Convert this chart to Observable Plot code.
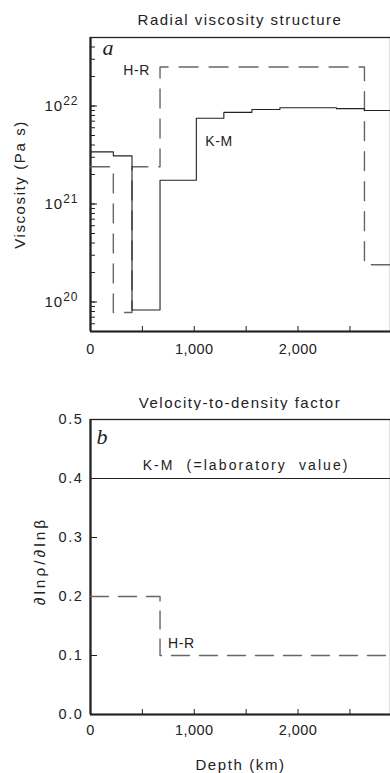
<!DOCTYPE html>
<html><head><meta charset="utf-8">
<script src="https://cdn.jsdelivr.net/npm/d3@7"></script>
<script src="https://cdn.jsdelivr.net/npm/@observablehq/plot@0.6"></script>
<style>
body{margin:0;background:#fff;width:390px;height:773px;position:relative;overflow:hidden;font-family:"Liberation Sans",Arial,sans-serif;color:#222}
.title{position:absolute;left:90px;width:300px;text-align:center;font-size:15px;letter-spacing:1.5px;line-height:20px;white-space:nowrap}
#a,#b{position:absolute;left:0}
.axt text{font-size:15px;letter-spacing:1.6px}
.axd text{font-size:15.5px;letter-spacing:3px}
.ann text{font-size:14px;letter-spacing:0.6px}
.annwide text{font-size:14px;letter-spacing:2.1px;word-spacing:6px}
.xlab text{font-size:14.5px;letter-spacing:0.5px}
.flab text{font-size:14.5px;letter-spacing:1.6px}
.vlab text{font-size:15px;letter-spacing:1px}
</style></head><body>
<div class="title" style="top:10px">Radial viscosity structure</div>
<div id="a" style="top:28px"></div>
<div class="title" style="top:393px">Velocity-to-density factor</div>
<div id="b" style="top:410px"></div>
<script>
// Panel a: radial viscosity (Pa s) vs depth (km), value from each layer top
const depthKM = [0, 220, 400, 670, 1020, 1285, 1555, 1825, 2370, 2640, 2891];
const viscKM  = [3.4e21, 3.1e21, 8.3e19, 1.75e21, 7.5e21, 8.6e21, 9.2e21, 9.6e21, 9.4e21, 9.0e21, 9.0e21];
const depthHR = [0, 220, 400, 670, 2640, 2891];
const viscHR  = [2.4e21, 7.8e19, 2.4e21, 2.5e22, 2.4e20, 2.4e20];
// Panel b: velocity-to-density factor
const factorDepthKM = [0, 2891];
const factorKM = [0.4, 0.4];
const factorDepthHR = [0, 670, 2891];
const factorHR = [0.2, 0.1, 0.1];
// Axes
const depthDomain = [0, 2891];
const viscDomain = [5e19, 5e22];
const factorDomain = [0, 0.5];
const xTickValues = [0, 500, 1000, 1500, 2000, 2500];
const xTickLabels = [0, 1000, 2000];
const viscMajorTicks = [1e20, 1e21, 1e22];
const factorTicks = [0, 0.1, 0.2, 0.3, 0.4, 0.5];
// Annotation texts and their data anchors
const labelHRa = {text: "H-R", x: 670, y: 2.5e22};
const labelKMa = {text: "K-M", x: 1020, y: 4.3e21};
const labelKMb = {text: "K-M (=laboratory value)", x: 1500, y: 0.4};
const labelHRb = {text: "H-R", x: 670, y: 0.1};

const font = '"Liberation Sans", Arial, sans-serif';
const rows = (xs, ys) => xs.map((x, i) => ({x, y: ys[i]}));
const fmtX = d3.format(",");
const ink = "#222";
const dashInk = "#666";
const T = 5; // tick length (px), drawn inward

const plotA = Plot.plot({
  width: 390, height: 340, marginLeft: 90, marginRight: 0, marginTop: 9, marginBottom: 37,
  style: {fontFamily: font, fontSize: "14.5px", color: ink, background: "white", overflow: "visible"},
  x: {domain: depthDomain, label: null},
  y: {type: "log", domain: viscDomain, label: null},
  marks: [
    Plot.frame({stroke: ink, strokeWidth: 1.3}),
    Plot.ruleX([depthDomain[0]], {stroke: ink, strokeWidth: 2.2}),
    Plot.ruleY([viscDomain[0]], {stroke: ink, strokeWidth: 2}),
    Plot.axisX({ticks: xTickValues, tickSize: T, dy: -T, tickFormat: () => "", label: null}),
    Plot.axisX({ticks: xTickLabels, tickSize: 0, tickPadding: 12, tickFormat: fmtX, label: null, className: "xlab"}),
    Plot.axisY({ticks: d3.scaleLog().domain(viscDomain).ticks(), tickSize: T, dx: T, tickFormat: () => "", label: null}),
    Plot.axisY({ticks: viscMajorTicks, tickSize: 7, dx: 7, tickFormat: () => "", label: null}),
    Plot.axisY({ticks: viscMajorTicks, tickSize: 0, tickPadding: 12, tickFormat: d => "10^" + Math.round(Math.log10(d)), label: null, className: "vlab"}),
    Plot.line(rows(depthHR, viscHR), {x: "x", y: "y", curve: "step-after", stroke: dashInk, strokeWidth: 1.4, strokeDasharray: "19,11"}),
    Plot.line(rows(depthKM, viscKM), {x: "x", y: "y", curve: "step-after", stroke: ink, strokeWidth: 1.1}),
    Plot.text([labelHRa], {x: "x", y: "y", text: "text", textAnchor: "end", dx: -10, dy: 4, fill: ink, className: "ann"}),
    Plot.text([labelKMa], {x: "x", y: "y", text: "text", textAnchor: "start", dx: 9, dy: 0, fill: ink, className: "ann"}),
    Plot.text(["a"], {frameAnchor: "top-left", textAnchor: "start", lineAnchor: "top", dx: 12, dy: 2, fontSize: 22, fontStyle: "italic", fontFamily: '"Liberation Serif", serif', fill: ink}),
    Plot.text(["Viscosity (Pa s)"], {frameAnchor: "left", textAnchor: "middle", lineAnchor: "middle", dx: -70, rotate: -90, fill: ink, className: "axt"})
  ]
});

const plotB = Plot.plot({
  width: 390, height: 363, marginLeft: 90, marginRight: 0, marginTop: 9, marginBottom: 59,
  style: {fontFamily: font, fontSize: "14.5px", color: ink, background: "white", overflow: "visible"},
  x: {domain: depthDomain, label: null},
  y: {domain: factorDomain, label: null},
  marks: [
    Plot.frame({stroke: ink, strokeWidth: 1.3}),
    Plot.ruleX([depthDomain[0]], {stroke: ink, strokeWidth: 2.2}),
    Plot.ruleY([factorDomain[0]], {stroke: ink, strokeWidth: 2}),
    Plot.axisX({ticks: xTickValues, tickSize: T, dy: -T, tickFormat: () => "", label: null}),
    Plot.axisX({ticks: xTickLabels, tickSize: 0, tickPadding: 10, tickFormat: fmtX, label: null, className: "xlab"}),
    Plot.axisY({ticks: factorTicks, tickSize: 7, dx: 7, tickFormat: () => "", label: null}),
    Plot.axisY({ticks: factorTicks, tickSize: 0, tickPadding: 7, tickFormat: d3.format(".1f"), label: null, className: "flab"}),
    Plot.line(rows(factorDepthKM, factorKM), {x: "x", y: "y", stroke: ink, strokeWidth: 1.1}),
    Plot.line(rows(factorDepthHR, factorHR), {x: "x", y: "y", curve: "step-after", stroke: dashInk, strokeWidth: 1.4, strokeDasharray: "18,10"}),
    Plot.text([labelKMb], {x: "x", y: "y", text: "text", textAnchor: "middle", dy: -13, fill: ink, className: "annwide"}),
    Plot.text([labelHRb], {x: "x", y: "y", text: "text", textAnchor: "start", dx: 8, dy: -12, fill: ink, className: "ann"}),
    Plot.text(["b"], {frameAnchor: "top-left", textAnchor: "start", lineAnchor: "top", dx: 6, dy: 9, fontSize: 22, fontStyle: "italic", fontFamily: '"Liberation Serif", serif', fill: ink}),
    Plot.text(["∂lnρ/∂lnβ"], {frameAnchor: "left", textAnchor: "middle", lineAnchor: "middle", dx: -50, dy: -6, rotate: -90, fill: ink, className: "axd"}),
    Plot.text(["Depth (km)"], {frameAnchor: "bottom", textAnchor: "middle", lineAnchor: "middle", dy: 51, fill: ink, className: "axt"})
  ]
});

document.getElementById("a").appendChild(plotA);
document.getElementById("b").appendChild(plotB);

// render "10^n" tick labels with a raised exponent
d3.select(plotA).selectAll(".vlab text").each(function() {
  const s = this.textContent;
  if (!s.includes("^")) return;
  const [base, exp] = s.split("^");
  this.textContent = "";
  const t = d3.select(this);
  t.append("tspan").text(base);
  t.append("tspan").attr("dy", "-0.45em").attr("font-size", "12px").text(exp);
});
</script>
</body></html>
